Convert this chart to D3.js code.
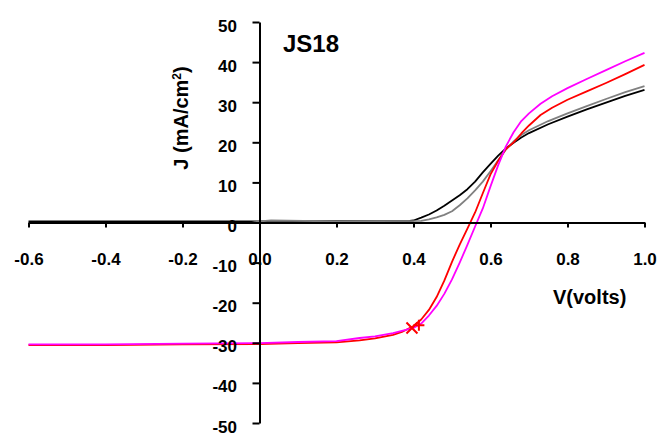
<!DOCTYPE html>
<html>
<head>
<meta charset="utf-8">
<script src="https://cdn.jsdelivr.net/npm/d3@7"></script>
<style>
    body { margin: 0; background: #fff; }
    text { font-family: Arial, "Liberation Sans", sans-serif; font-weight: bold; fill: #000; }
    .axis path, .axis line { stroke: #000; stroke-width: 2px; }
    .series { fill: none; stroke-width: 1.8px; stroke-linejoin: round; }
</style>
</head>
<body>
<svg id="jvChart" width="659" height="435"></svg>
<script>
// J-V curves, [V, J]
const blackCurve = [[-0.6,0.3],[-0.4,0.3],[-0.2,0.3],[0,0.3],[0.2,0.35],[0.39,0.4],[0.40,0.5],[0.42,1.2],[0.44,2.0],
    [0.46,3.0],[0.48,4.2],[0.50,5.5],[0.52,6.8],[0.54,8.3],[0.56,10.2],[0.58,12.5],[0.60,14.6],[0.62,16.7],[0.64,18.5],
    [0.66,19.9],[0.68,21.2],[0.70,22.3],[0.75,24.5],[0.80,26.4],[0.85,28.2],[0.90,29.9],[0.95,31.6],[1.0,33.1]];
const grayCurve = [[-0.6,-0.1],[-0.3,-0.1],[-0.02,-0.1],[0.0,0.3],[0.03,0.5],[0.2,0.3],[0.42,0.4],[0.44,0.8],[0.46,1.3],
    [0.48,1.9],[0.50,2.8],[0.52,4.3],[0.54,6.0],[0.56,8.0],[0.58,10.2],[0.60,12.8],[0.62,15.5],[0.64,18.2],[0.66,20.2],
    [0.68,21.8],[0.70,23.0],[0.75,25.3],[0.80,27.2],[0.85,29.0],[0.90,30.8],[0.95,32.5],[1.0,34]];
const redCurve = [[-0.6,-30.6],[-0.4,-30.6],[-0.2,-30.4],[0,-30.3],[0.1,-30.1],[0.2,-29.9],[0.26,-29.4],[0.3,-28.9],
    [0.347,-28],[0.37,-27.3],[0.40,-25.8],[0.42,-24.2],[0.44,-21.8],[0.46,-18.6],[0.48,-14.5],[0.50,-9.8],[0.52,-5.5],
    [0.54,-1.5],[0.56,2.5],[0.58,7.3],[0.60,12.0],[0.62,15.4],[0.64,18.3],[0.66,20.0],[0.68,22.2],[0.70,24.2],
    [0.73,26.8],[0.76,28.6],[0.80,30.6],[0.85,32.7],[0.90,34.8],[0.95,37],[1.0,39.3]];
const magentaCurve = [[-0.6,-30.4],[-0.4,-30.4],[-0.2,-30.2],[0,-30.1],[0.1,-29.8],[0.2,-29.6],[0.26,-28.8],[0.3,-28.4],
    [0.347,-27.6],[0.38,-26.8],[0.40,-26.3],[0.42,-25.2],[0.44,-23.2],[0.46,-20.8],[0.48,-17.8],[0.50,-14.2],[0.52,-10.0],
    [0.54,-5.6],[0.56,-1.0],[0.58,3.5],[0.60,9.0],[0.62,14.3],[0.64,19.0],[0.66,22.5],[0.68,25.3],[0.70,27.2],
    [0.73,29.6],[0.76,31.5],[0.80,33.5],[0.85,35.8],[0.90,38],[0.95,40.2],[1.0,42.3]];

const seriesList = [
    {name: "black", color: "#000000", values: blackCurve},
    {name: "gray", color: "#808080", values: grayCurve},
    {name: "red", color: "#ff0000", values: redCurve},
    {name: "magenta", color: "#ff00ff", values: magentaCurve}
];

// max power point markers on the red curve
const xMarks = [[0.396,-26.3]];
const plusMarks = [[0.414,-25.6]];

const xTicks = [-0.6,-0.4,-0.2,0.0,0.2,0.4,0.6,0.8,1.0];
const yTicks = [-50,-40,-30,-20,-10,0,10,20,30,40,50];

const drawChart = ()=>{
    let svg = d3.select("#jvChart");

    let xScale = d3.scaleLinear().domain([-0.6, 1.0]).range([28.5, 644.5]);
    let yScale = d3.scaleLinear().domain([-50, 50]).range([423, 22]);

    let line = d3.line()
        .x(function(d) { return xScale(d[0]); })
        .y(function(d) { return yScale(d[1]); });

    svg.selectAll(".series")
        .data(seriesList)
        .enter().append("path")
        .attr("class", "series")
        .attr("stroke", (d)=>d.color)
        .attr("d", (d)=>line(d.values));

    let xAxis = d3.axisBottom(xScale)
        .tickValues(xTicks)
        .tickSize(5)
        .tickSizeOuter(0)
        .tickPadding(25)
        .tickFormat((d)=>d.toFixed(1));

    let yAxis = d3.axisLeft(yScale)
        .tickValues(yTicks)
        .tickSize(7)
        .tickSizeOuter(0)
        .tickPadding(15.5)
        .tickFormat((d)=>String(d));

    let gx = svg.append("g")
        .attr("class", "x axis")
        .attr("transform", "translate(0," + yScale(0) + ")")
        .call(xAxis);
    gx.selectAll("text").attr("font-size", "17px");

    let gy = svg.append("g")
        .attr("class", "y axis")
        .attr("transform", "translate(" + xScale(0) + ",0)")
        .call(yAxis);
    gy.selectAll("text").attr("font-size", "17px").attr("dy", "9px");

    svg.selectAll(".axis text").attr("font-family", null);

    // markers
    let s = 5.5;
    svg.selectAll(".xmark")
        .data(xMarks)
        .enter().append("path")
        .attr("class", "xmark")
        .attr("d", (d)=>{
            let cx = xScale(d[0]), cy = yScale(d[1]);
            return "M" + (cx - s) + "," + (cy - s) + "L" + (cx + s) + "," + (cy + s) +
                "M" + (cx - s) + "," + (cy + s) + "L" + (cx + s) + "," + (cy - s);
        })
        .attr("stroke", "#ff0000")
        .attr("stroke-width", 2);

    svg.selectAll(".plusmark")
        .data(plusMarks)
        .enter().append("path")
        .attr("class", "plusmark")
        .attr("d", (d)=>{
            let cx = xScale(d[0]), cy = yScale(d[1]);
            return "M" + (cx - s) + "," + cy + "L" + (cx + s) + "," + cy +
                "M" + cx + "," + (cy - s) + "L" + cx + "," + (cy + s);
        })
        .attr("stroke", "#ff0000")
        .attr("stroke-width", 2);

    // titles
    svg.append("text")
        .attr("x", 283)
        .attr("y", 52)
        .attr("font-size", "24px")
        .text("JS18");

    svg.append("text")
        .attr("x", 553)
        .attr("y", 304)
        .attr("font-size", "20px")
        .text("V(volts)");

    let yTitle = svg.append("text")
        .attr("transform", "translate(188,118) rotate(-90)")
        .attr("text-anchor", "middle")
        .attr("font-size", "20px");
    yTitle.append("tspan").text("J (mA/cm");
    yTitle.append("tspan").attr("font-size", "12px").attr("dy", "-7").text("2");
    yTitle.append("tspan").attr("dy", "7").text(")");
}

window.onload = function(){
    drawChart();
}
</script>
</body>
</html>
